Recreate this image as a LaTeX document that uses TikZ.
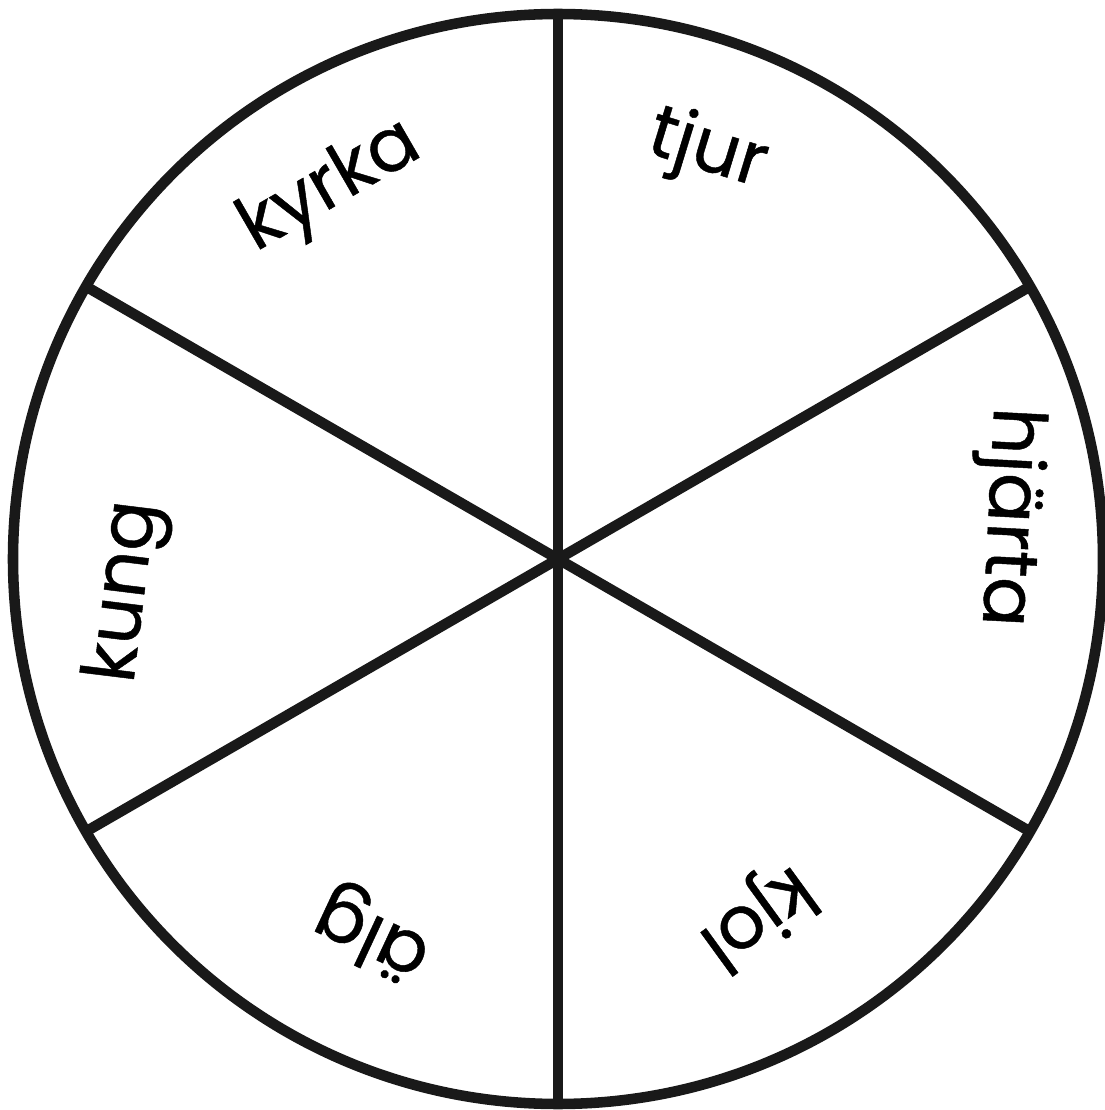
\documentclass[tikz,border=0pt]{standalone}
\usepackage{fontspec}
\setmainfont{Poppins}[FakeBold=0.6]
\usepackage{xcolor}
\usepackage{tikz}
\usetikzlibrary{positioning}
\tikzset{
  word/.style={font=\fontsize{21}{21}\selectfont, inner sep=0pt},
  rim/.style={line width=3pt, black!90}
}

\begin{document}
\begin{tikzpicture}
    \useasboundingbox (0,0) rectangle (11.05,11.10);
    \coordinate (c) at (5.58,5.51);

    \draw[rim] (c) circle (5.45);
    \draw[rim] (c) -- ++(90:5.45);
    \draw[rim] (c) -- ++(270:5.45);
    \draw[rim] (c) -- ++(30:5.45);
    \draw[rim] (c) -- ++(150:5.45);
    \draw[rim] (c) -- ++(210:5.45);
    \draw[rim] (c) -- ++(330:5.45);

    \node[word,rotate=30] (kyrka) at (3.31,9.22) {kyrka};
    \node[word,rotate=-17] (tjur) at (7.07,9.58) {tjur};
    \node[word,rotate=-93] (hjarta) at (10.07,5.93) {hjärta};
    \node[word,rotate=83] (kung) at (1.27,5.18) {kung};
    \node[word,rotate=216] (kjol) at (7.56,1.95) {kjol};
    \node[word,rotate=155] (alg) at (3.73,1.77) {älg};
  \end{tikzpicture}
\end{document}
